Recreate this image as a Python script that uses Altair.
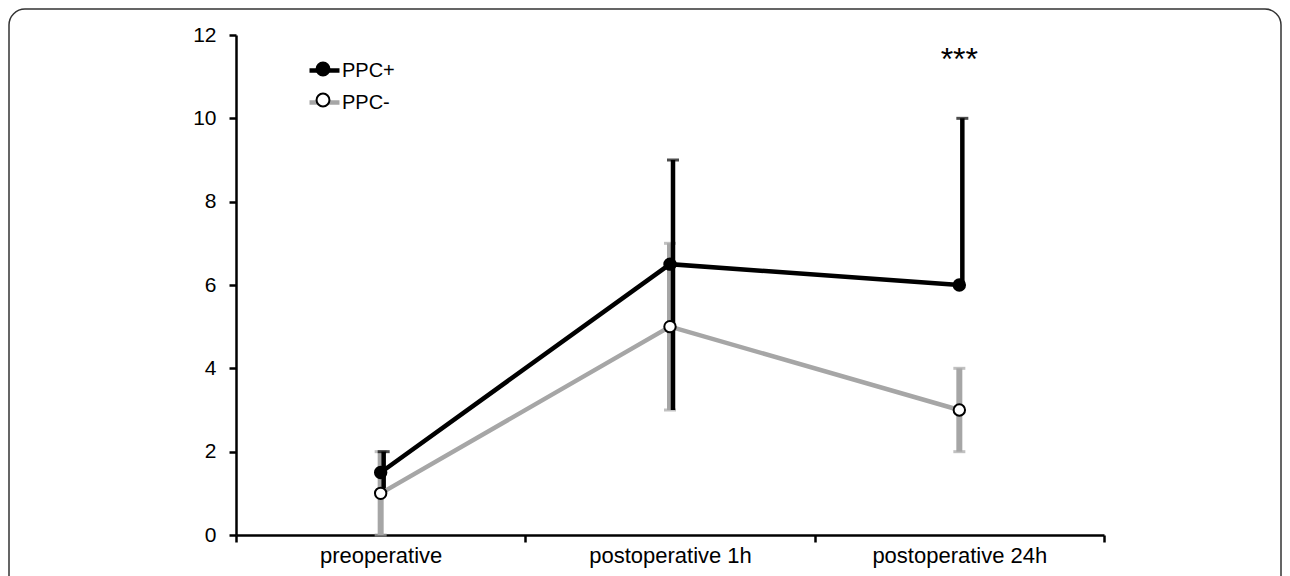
import altair as alt
import pandas as pd

categories = ["preoperative", "postoperative 1h", "postoperative 24h"]
series_names = ["PPC+", "PPC-"]
ppc_pos_mean = [1.5, 6.5, 6.0]
ppc_pos_low = [1.0, 3.0, 6.0]
ppc_pos_high = [2.0, 9.0, 10.0]
ppc_neg_mean = [1.0, 5.0, 3.0]
ppc_neg_low = [0.0, 3.0, 2.0]
ppc_neg_high = [2.0, 7.0, 4.0]
annot_cat = ["postoperative 24h"]
annot_text = ["***"]
annot_y = [11.4]

rows = []
for s, m, lo, hi in [("PPC+", ppc_pos_mean, ppc_pos_low, ppc_pos_high),
                     ("PPC-", ppc_neg_mean, ppc_neg_low, ppc_neg_high)]:
    for c, mv, l, h in zip(categories, m, lo, hi):
        rows.append({"cat": c, "series": s, "series2": s, "mean": mv, "low": l, "high": h})
df = pd.DataFrame(rows)
pos = df[df.series == "PPC+"]
neg = df[df.series == "PPC-"]
ann = pd.DataFrame({"cat": annot_cat, "text": annot_text, "y": annot_y})

BLACK = "#000000"
GREY = "#a6a6a6"
W, H = 868, 500

x_scale = alt.Scale(type="band", paddingInner=0, paddingOuter=0, domain=categories)
x_enc = alt.X("cat:N", sort=categories, scale=x_scale,
              axis=alt.Axis(title=None, tickBand="extent", labelAngle=0, grid=False))
y_scale = alt.Scale(domain=[0, 12], nice=False, zero=True)


def yq(field):
    return alt.Y(field, scale=y_scale, title=None,
                 axis=alt.Axis(title=None, values=[0, 2, 4, 6, 8, 10, 12], grid=False))


border = alt.Chart(pd.DataFrame({"a": [0]})).mark_rect(
    fill=None, stroke="#333333", strokeWidth=1.5, cornerRadius=16, clip=False
).encode(x=alt.value(-227), x2=alt.value(W + 177), y=alt.value(-26), y2=alt.value(H + 80))

grey_bars = alt.Chart(neg).mark_rule(color=GREY, strokeWidth=6).encode(
    x=x_enc, y=yq("low:Q"), y2="high:Q")
grey_caps_hi = alt.Chart(neg).mark_tick(color=GREY, size=12, thickness=3).encode(
    x=x_enc, y=yq("high:Q"))
grey_caps_lo = alt.Chart(neg).mark_tick(color=GREY, size=12, thickness=3).encode(
    x=x_enc, y=yq("low:Q"))

black_bars = alt.Chart(pos).mark_rule(color=BLACK, strokeWidth=4.5, xOffset=3).encode(
    x=x_enc, y=yq("low:Q"), y2="high:Q")
black_caps = alt.Chart(pos).mark_tick(color=BLACK, size=12, thickness=3, xOffset=3).encode(
    x=x_enc, y=yq("high:Q"))

LEG_X, LEG_Y, LEG_ROWPAD = 71, 18, 4

lines = alt.Chart(df).mark_line(strokeWidth=4.5).encode(
    x=x_enc, y=yq("mean:Q"), detail="series:N",
    stroke=alt.Stroke("series:N",
                      scale=alt.Scale(domain=series_names, range=[BLACK, GREY]),
                      legend=alt.Legend(orient="none", legendX=LEG_X, legendY=LEG_Y, title=None,
                                        symbolType="M-1,0H1", symbolSize=900, symbolStrokeWidth=4.5,
                                        labelFontSize=20, labelColor="#000", rowPadding=LEG_ROWPAD,
                                        labelOffset=0, padding=0)))

points = alt.Chart(df).mark_point(filled=False, size=130, stroke=BLACK, strokeWidth=2, opacity=1).encode(
    x=x_enc, y=yq("mean:Q"),
    fill=alt.Fill("series2:N",
                  scale=alt.Scale(domain=series_names, range=[BLACK, "#ffffff"]),
                  legend=alt.Legend(orient="none", legendX=LEG_X, legendY=LEG_Y, title=None,
                                    symbolType="M-0.43,0A0.43,0.43 0 1,0 0.43,0A0.43,0.43 0 1,0 -0.43,0Z",
                                    symbolSize=900, symbolStrokeColor=BLACK,
                                    symbolStrokeWidth=2, symbolOpacity=1, labelExpr="''",
                                    labelFontSize=20, rowPadding=LEG_ROWPAD, labelOffset=0,
                                    padding=0)))

stars = alt.Chart(ann).mark_text(fontSize=32, color="#000", baseline="middle").encode(
    x=alt.X("cat:N", sort=categories, scale=x_scale, title=None),
    y=yq("y:Q"), text="text:N")

chart = alt.layer(border, grey_bars, grey_caps_hi, grey_caps_lo, black_bars, black_caps,
                  lines, points, stars).resolve_legend(fill="independent", stroke="independent").properties(
    width=W, height=H,
    autosize=alt.AutoSizeParams(type="none"),
    padding={"left": 228, "top": 27, "right": 178, "bottom": 41},
).configure(font="Liberation Sans").configure_view(stroke=None).configure_axis(
    labelColor="#000", tickSize=7, tickWidth=2.5, tickColor="#000",
    domainColor="#000", domainWidth=2.5, grid=False
).configure_axisX(labelFontSize=22, labelPadding=3).configure_axisY(labelFontSize=21, labelPadding=13)

chart.save("out.html", embed_options={"renderer": "svg", "actions": False})
